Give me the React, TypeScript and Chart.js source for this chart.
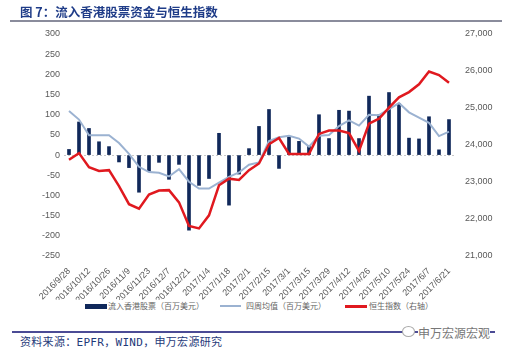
import React, { useEffect, useRef } from 'react';
import { Chart, registerables } from 'chart.js';

Chart.register(...registerables);

const dates = [
  '2016/9/28', '2016/10/5', '2016/10/12', '2016/10/19', '2016/10/26', '2016/11/2', '2016/11/9',
  '2016/11/16', '2016/11/23', '2016/11/30', '2016/12/7', '2016/12/14', '2016/12/21', '2016/12/28',
  '2017/1/4', '2017/1/11', '2017/1/18', '2017/1/25', '2017/2/1', '2017/2/8', '2017/2/15',
  '2017/2/22', '2017/3/1', '2017/3/8', '2017/3/15', '2017/3/22', '2017/3/29', '2017/4/5',
  '2017/4/12', '2017/4/19', '2017/4/26', '2017/5/3', '2017/5/10', '2017/5/17', '2017/5/24',
  '2017/5/31', '2017/6/7', '2017/6/14', '2017/6/21',
];

// 流入香港股票（百万美元）
const inflow = [
  14, 82, 66, 33, 21, -17, -31, -92, -40, -18, -60, -23, -186, -75, -58, 54, -124, -47, 16, 71,
  113, -33, 46, 34, 23, 100, 41, 111, 109, 41, 146, 100, 155, 128, 42, 40, 95, 13, 88,
];

// 四周均值（百万美元）
const avg4w = [
  109, 88, 49, 49, 49, 30, 3, -29, -42, -44, -53, -35, -66, -83, -83, -68, -54, -43, -24, -18,
  35, 44, 48, 41, 21, 48, 50, 72, 86, 73, 100, 99, 114, 129, 106, 93, 80, 47, 58,
];

// 恒生指数（右轴）
const hsi = [
  23600, 23780, 23400, 23300, 23320, 22890, 22400, 22280, 22660, 22770, 22780, 22450, 21810,
  21745, 22100, 22910, 23090, 23055, 23320, 23500, 24020, 24190, 23760, 23760, 23760, 24300,
  24390, 24390, 24320, 23840, 24580, 24710, 25010, 25290, 25430, 25640, 25985, 25890, 25680,
];

const leftAxis = { min: -250, max: 300, step: 50 };
const rightAxis = { min: 21000, max: 27000, step: 1000 };

const NAVY = '#10285a';
const LIGHT = '#9bb2d1';
const RED = '#e0191f';
const TICK_FONT = { family: '"Liberation Sans", Arial, sans-serif', size: 9 };

export default function App() {
  const ref = useRef<HTMLCanvasElement>(null);

  useEffect(() => {
    const chart = new Chart(ref.current!, {
      type: 'bar',
      data: {
        labels: dates,
        datasets: [
          {
            type: 'line',
            label: '恒生指数（右轴）',
            data: hsi,
            yAxisID: 'y1',
            borderColor: RED,
            borderWidth: 2.5,
            pointRadius: 0,
            tension: 0,
            order: 1,
          } as any,
          {
            type: 'line',
            label: '四周均值（百万美元）',
            data: avg4w,
            yAxisID: 'y',
            borderColor: LIGHT,
            borderWidth: 2,
            pointRadius: 0,
            tension: 0,
            order: 2,
          },
          {
            type: 'bar',
            label: '流入香港股票（百万美元）',
            data: inflow,
            yAxisID: 'y',
            backgroundColor: NAVY,
            barThickness: 3,
            order: 3,
          },
        ],
      },
      options: {
        responsive: false,
        animation: false,
        layout: { padding: { top: 34, left: 0, right: 0, bottom: 0 } },
        plugins: { legend: { display: false }, tooltip: { enabled: false } },
        scales: {
          x: {
            offset: true,
            grid: { display: false },
            border: { display: false },
            ticks: {
              autoSkip: false,
              minRotation: 45,
              maxRotation: 45,
              padding: 2,
              color: '#595959',
              font: TICK_FONT,
              callback: (_v: any, i: number) => (i % 2 === 0 ? dates[i] : ''),
            },
            afterFit: (s: any) => {
              s.height = 44;
            },
          },
          y: {
            position: 'left',
            min: leftAxis.min,
            max: leftAxis.max,
            border: { display: false, dash: [2, 2] },
            grid: {
              drawTicks: false,
              color: (c: any) => (c.tick && c.tick.value === 0 ? '#c8c8c8' : 'rgba(0,0,0,0)'),
              lineWidth: 1,
            },
            ticks: { stepSize: leftAxis.step, padding: 4, color: '#595959', font: TICK_FONT },
            afterFit: (s: any) => {
              s.width = 64;
            },
          },
          y1: {
            position: 'right',
            min: rightAxis.min,
            max: rightAxis.max,
            border: { display: false },
            grid: { display: false, drawTicks: false },
            ticks: {
              stepSize: rightAxis.step,
              padding: 11,
              color: '#595959',
              font: TICK_FONT,
              callback: (v: any) => Number(v).toLocaleString('en-US'),
            },
            afterFit: (s: any) => {
              s.width = 57;
            },
          },
        },
      },
    });
    return () => chart.destroy();
  }, []);

  const legendText: React.CSSProperties = {
    position: 'absolute',
    top: 301,
    fontSize: 8,
    lineHeight: '10px',
    color: '#666',
    whiteSpace: 'nowrap',
  };

  return (
    <div
      style={{
        position: 'absolute',
        left: 0,
        top: 0,
        width: 511,
        height: 354,
        background: '#fff',
        overflow: 'hidden',
        fontFamily: '"Noto Sans CJK SC", "Noto Sans", sans-serif',
      }}
    >
      <canvas ref={ref} width={511} height={300} style={{ position: 'absolute', left: 0, top: 0 }} />
      <div
        style={{
          position: 'absolute',
          left: 20,
          top: 4,
          fontSize: 12.5,
          lineHeight: '16px',
          fontWeight: 'bold',
          color: '#1f3c88',
          whiteSpace: 'nowrap',
        }}
      >
        图 7：流入香港股票资金与恒生指数
      </div>
      <div style={{ position: 'absolute', left: 10, top: 20, width: 492, height: 2, background: '#8a8c9c' }} />

      <div style={{ position: 'absolute', left: 85, top: 304, width: 22, height: 5, background: NAVY }} />
      <div style={{ ...legendText, left: 108 }}>流入香港股票（百万美元）</div>
      <div style={{ position: 'absolute', left: 220, top: 305, width: 21, height: 2, background: LIGHT }} />
      <div style={{ ...legendText, left: 246 }}>四周均值（百万美元）</div>
      <div style={{ position: 'absolute', left: 345, top: 305, width: 22, height: 2.5, background: RED }} />
      <div style={{ ...legendText, left: 369 }}>恒生指数（右轴）</div>

      <div style={{ position: 'absolute', left: 12, top: 331, width: 483, height: 1.5, background: '#4b4b95' }} />
      <div
        style={{
          position: 'absolute',
          left: 402,
          top: 326,
          width: 11,
          height: 9,
          borderRadius: '50%',
          border: '1px solid #aaa',
          background: '#fff',
        }}
      />
      <div
        style={{
          position: 'absolute',
          left: 418,
          top: 325,
          fontSize: 12,
          lineHeight: '15px',
          color: '#777',
          background: '#fff',
          whiteSpace: 'nowrap',
        }}
      >
        申万宏源宏观
      </div>
      <div
        style={{
          position: 'absolute',
          left: 20,
          top: 336,
          fontSize: 11,
          lineHeight: '14px',
          color: '#1f3a7a',
          letterSpacing: '0.3px',
          whiteSpace: 'nowrap',
          fontFamily: '"DejaVu Sans Mono", "Noto Sans CJK SC", monospace',
        }}
      >
        资料来源：EPFR，WIND，申万宏源研究
      </div>
    </div>
  );
}
